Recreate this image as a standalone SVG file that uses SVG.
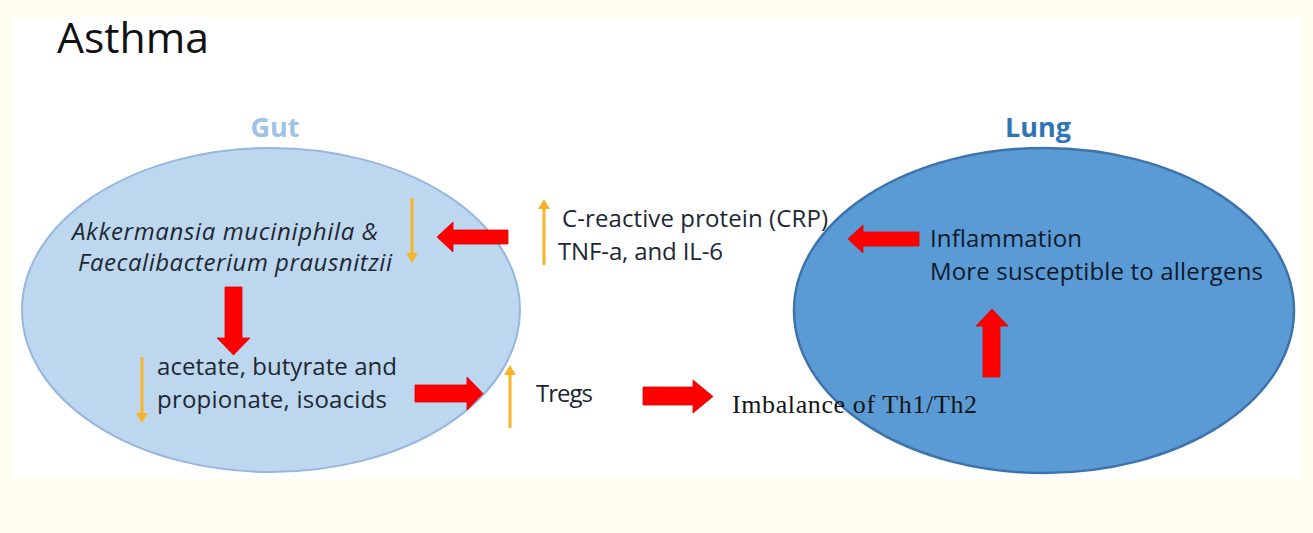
<svg xmlns="http://www.w3.org/2000/svg" width="1313" height="533" viewBox="0 0 1313 533">
  <style>
    .sans { font-family: "Open Sans", "Liberation Sans", sans-serif; font-size: 24px; fill: #1d2733; }
    .ital { font-style: italic; }
    .serif { font-family: "Liberation Serif", "Times New Roman", serif; font-size: 26px; fill: #141414; }
    .dark { fill: #0e1a2c; }
    .red { fill: #ff0000; stroke: #e00000; stroke-width: 0.8; }
    .yel { stroke: #f7b52a; stroke-width: 3; fill: none; marker-end: url(#yhead); }
    .head { font-family: "Open Sans", "Liberation Sans", sans-serif; font-weight: bold; font-size: 27px; }
  </style>
  <defs>
    <marker id="yhead" markerUnits="userSpaceOnUse" markerWidth="10" markerHeight="12" refX="6" refY="6" orient="auto">
      <path d="M0,0 L10,6 L0,12 Z" fill="#f7b52a"/>
    </marker>
  </defs>

  <rect x="0" y="0" width="1313" height="533" fill="#fffcf0"/>
  <rect x="13" y="17" width="1287" height="462" fill="#ffffff"/>

  <g id="title">
    <text x="57" y="53" font-family="Open Sans, Liberation Sans, sans-serif" font-size="42" fill="#111" textLength="152" lengthAdjust="spacingAndGlyphs">Asthma</text>
  </g>

  <g id="gut">
    <ellipse cx="271" cy="310" rx="249" ry="162" fill="#bdd7ee" stroke="#95b7df" stroke-width="2"/>
    <text class="head" x="275" y="137" text-anchor="middle" fill="#9dc3e6">Gut</text>
  </g>

  <g id="lung">
    <ellipse cx="1044" cy="310.5" rx="250" ry="162.5" fill="#5b9bd5" stroke="#3d73ad" stroke-width="2.5"/>
    <text class="head" x="1038" y="137" text-anchor="middle" fill="#2e75b6">Lung</text>
  </g>

  <g id="bacteria">
    <text class="sans ital" x="72" y="240" textLength="306" lengthAdjust="spacing">Akkermansia muciniphila &amp;</text>
    <text class="sans ital" x="78" y="271" textLength="314" lengthAdjust="spacing">Faecalibacterium prausnitzii</text>
  </g>

  <g id="scfa">
    <text class="sans" x="157" y="375" textLength="240" lengthAdjust="spacing">acetate, butyrate and</text>
    <text class="sans" x="157" y="408" textLength="230" lengthAdjust="spacing">propionate, isoacids</text>
  </g>

  <g id="cytokines">
    <text class="sans" x="562" y="227" textLength="266" lengthAdjust="spacing">C-reactive protein (CRP)</text>
    <text class="sans" x="558" y="260" textLength="165" lengthAdjust="spacing">TNF-a, and IL-6</text>
  </g>

  <g id="tregs">
    <text class="sans" x="536" y="402" textLength="57" lengthAdjust="spacing">Tregs</text>
  </g>

  <g id="imbalance">
    <text class="serif" x="732" y="413" textLength="245" lengthAdjust="spacing">Imbalance of Th1/Th2</text>
  </g>

  <g id="lung-effects">
    <text class="sans dark" x="930" y="247" textLength="152" lengthAdjust="spacing">Inflammation</text>
    <text class="sans dark" x="930" y="280" textLength="333" lengthAdjust="spacing">More susceptible to allergens</text>
  </g>

  <g id="connectors">
    <path class="red" d="M508,230 L453,230 L453,222 L437,237 L453,252 L453,244 L508,244 Z"/>
    <path class="red" d="M225,287 L242,287 L242,338 L250,338 L233.5,355 L217,338 L225,338 Z"/>
    <path class="red" d="M415,385 L467,385 L467,377 L483,393.5 L467,410 L467,402 L415,402 Z"/>
    <path class="red" d="M643,387 L693,387 L693,380 L713,396.5 L693,413 L693,405 L643,405 Z"/>
    <path class="red" d="M919,232 L863,232 L863,225 L848,239 L863,253 L863,246 L919,246 Z"/>
    <path class="red" d="M983,377 L983,326 L976,326 L992,309 L1008,326 L1000,326 L1000,377 Z"/>

    <line class="yel" x1="412" y1="198" x2="412" y2="259"/>
    <line class="yel" x1="544" y1="265" x2="544" y2="203"/>
    <line class="yel" x1="142" y1="357" x2="142" y2="419"/>
    <line class="yel" x1="510" y1="428" x2="510" y2="369"/>
  </g>
</svg>
